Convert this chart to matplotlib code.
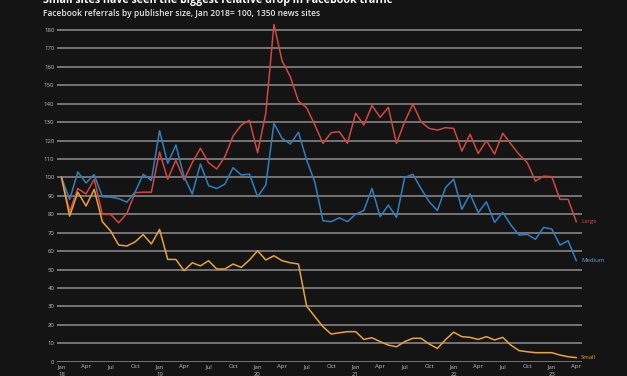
import numpy as np
import matplotlib
matplotlib.use("Agg")
import matplotlib.pyplot as plt

# Monthly index values, Jan 2018 .. Apr 2023 (Jan 2018 = 100)
large = [100, 81.5, 94, 91, 99, 80, 80, 75.4, 80.5, 91.7, 92, 92,
         113.8, 99, 109.4, 98.6, 108, 115.8, 108, 104.6, 111.3, 122.5, 128.4, 131,
         113.4, 134.8, 183, 163.2, 154.7, 141.5, 137.8, 128.5, 118.5, 124.3, 124.8, 118.5,
         134.8, 128.4, 139, 132.6, 138, 118.5, 130.2, 139.8, 130.2, 126.6, 125.7, 127,
         126.6, 114.3, 123.4, 113, 120, 112.7, 124, 118.1, 112.5, 108, 98, 100.7,
         100.4, 88.1, 88.1, 76]
medium = [100, 88, 103, 97, 101.5, 89.5, 89.3, 88.5, 86.6, 92, 101.7, 98.4,
          125.4, 107.6, 117.6, 100.4, 91, 107.3, 95.5, 94, 96.4, 105.3, 101.3, 101.8,
          89.5, 95.9, 129.3, 121.2, 118.1, 124.5, 109.4, 97.5, 76.5, 76, 78.1, 76,
          80.1, 82, 94, 78.7, 85, 78.3, 100, 101.7, 94, 86.8, 82, 94.5,
          99.1, 82.7, 91, 80.9, 86.8, 75.6, 81, 74.2, 68.7, 69.1, 66.4, 72.9,
          72, 63.3, 65.7, 54.8]
small = [100, 79, 92, 84.5, 93.5, 76, 71, 63.3, 62.8, 65, 69, 63.9,
         71.8, 55.5, 55.5, 49.4, 53.7, 52, 54.8, 50.3, 50.3, 53, 51.2, 55.2,
         60.2, 55.2, 57.5, 54.8, 53.7, 53, 30.2, 24.5, 19, 15, 15.7, 16.3,
         16.3, 12.1, 13, 10.9, 9, 8.1, 10.9, 12.7, 12.7, 9.6, 7.2, 12,
         16, 13.6, 13.2, 12.1, 13.6, 11.8, 13.2, 9, 6, 5.4, 4.9, 4.9,
         4.9, 3.6, 2.7, 2.2]

months = ['Jan', 'Apr', 'Jul', 'Oct']
years = ['18', '19', '20', '21', '22', '23']

bg = '#141414'
c_large = '#d1473f'
c_medium = '#2f7fc1'
c_small = '#e8a33a'

fig = plt.figure(figsize=(6.27, 3.76), dpi=100, facecolor=bg)
ax = fig.add_axes([57/627, 14.3/376, 525/627, 340.9/376])
ax.set_facecolor(bg)

x = np.arange(len(large))
ax.set_xlim(-0.55, 63.7)
ax.set_ylim(0, 185)

for v in range(0, 181, 10):
    ax.axhline(v, color='#8e8e8e', lw=1.1, zorder=1)

ax.plot(x, large, color=c_large, lw=1.1, zorder=3, clip_on=False)
ax.plot(x, medium, color=c_medium, lw=1.1, zorder=3)
ax.plot(x, small, color=c_small, lw=1.1, zorder=3)

ax.text(x[-1] + 0.6, large[-1], 'Large', color=c_large, fontsize=4.3,
        va='center', ha='left', family='Open Sans')
ax.text(x[-1] + 0.6, medium[-1], 'Medium', color='#6aa6dc', fontsize=4.3,
        va='center', ha='left', family='Open Sans')
ax.text(x[-1] + 0.6, small[-1], 'Small', color=c_small, fontsize=4.3,
        va='center', ha='left', family='Open Sans')

ax.set_yticks(range(0, 181, 10))
ax.set_yticklabels([str(v) for v in range(0, 181, 10)])
ticks = list(range(0, 64, 3))
labels = []
for t in ticks:
    m = months[(t % 12) // 3]
    if t % 12 == 0:
        labels.append(m + '\n' + years[t // 12])
    else:
        labels.append(m)
ax.set_xticks(ticks)
ax.set_xticklabels(labels)
ax.tick_params(axis='both', length=0, colors='#bdbdbd', labelsize=4.3, pad=2)
for lab in ax.get_xticklabels() + ax.get_yticklabels():
    lab.set_family('Open Sans')
    lab.set_linespacing(1.6)
for s in ax.spines.values():
    s.set_visible(False)

fig.text(43/627, 1 - 3/376, 'Small sites have seen the biggest relative drop in Facebook traffic',
         color='white', fontsize=7.7, fontweight='bold', va='baseline', ha='left', family='Open Sans')
fig.text(43/627, 1 - 15.5/376, 'Facebook referrals by publisher size, Jan 2018= 100, 1350 news sites',
         color='#e6e6e6', fontsize=6.1, fontweight='semibold', va='baseline', ha='left', family='Open Sans')

fig.savefig('out.png', dpi=100, facecolor=bg)
